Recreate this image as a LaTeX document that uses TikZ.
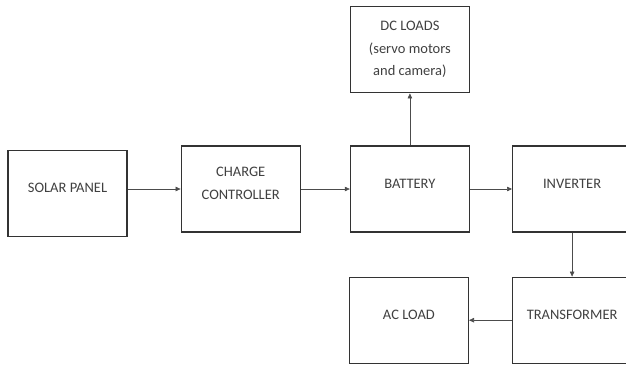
\documentclass[tikz,border=0pt]{standalone}
\usepackage{fontspec}
\setmainfont{Carlito}
\usetikzlibrary{positioning,arrows.meta}

\begin{document}
\begin{tikzpicture}[x=1pt,y=-1pt,
  block/.style={draw=black!80,line width=1.2pt,minimum width=119pt,minimum height=86pt,
    align=center,text=black!75,text depth=11pt,font=\fontsize{14.5}{22.5}\selectfont},
  ar/.style={draw=black!70,line width=0.6pt,-{Triangle[length=5pt,width=4.5pt]}}]
\useasboundingbox (0,0) rectangle (626,365);
\node[block] (sp) at (67.5,193.5) {SOLAR PANEL};
\node[block,right=53pt of sp,yshift=4.5pt] (cc) {CHARGE\\CONTROLLER};
\node[block,right=49pt of cc] (bat) {BATTERY};
\node[block,above=52pt of bat,text depth=3pt] (dc) {DC LOADS\\(servo motors\\and camera)};
\node[block,right=42pt of bat] (inv) {INVERTER};
\node[block,below=44pt of inv] (tr) {TRANSFORMER};
\node[block,left=43pt of tr] (ac) {AC LOAD};
\draw[ar] (sp.east |- cc) -- (cc.west);
\foreach \a/\b in {cc/bat,bat/inv,bat/dc,inv/tr,tr/ac} \draw[ar] (\a)--(\b);
\end{tikzpicture}
\end{document}
